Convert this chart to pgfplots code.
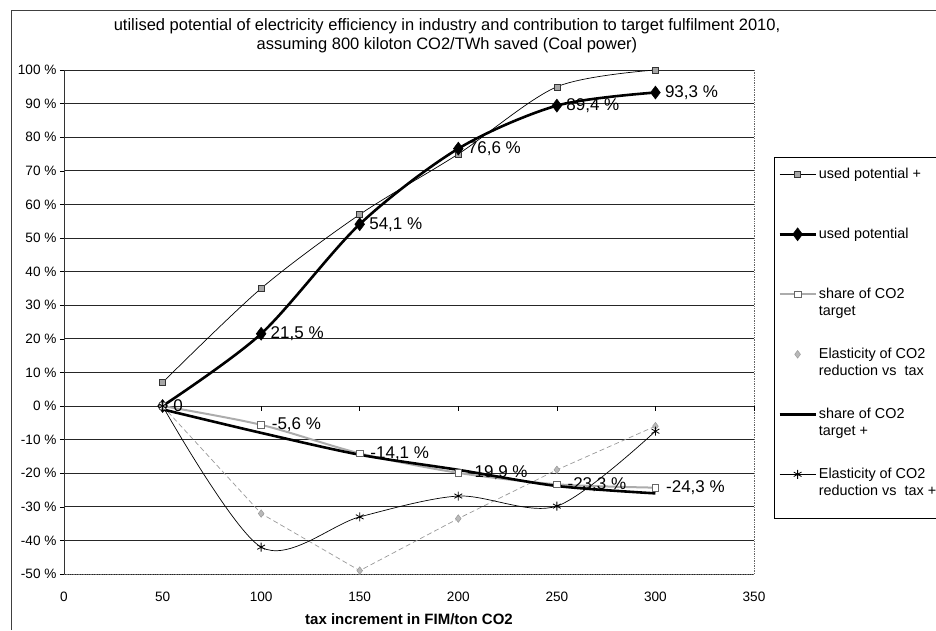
\documentclass[border=0pt]{standalone}
\usepackage{fontspec}
\setmainfont{Liberation Sans}
\usepackage{pgfplots}
\pgfplotsset{compat=1.18}
\pgfplotsset{
  legimg/.style={legend image code/.code={\draw[mark repeat=2,mark phase=2,##1] plot coordinates {(0pt,#1) (18pt,#1) (36pt,#1)};}}
}
\newcommand{\two}[2]{\vtop{\hbox{#1}\hbox{#2}}}
\begin{document}
\begin{tikzpicture}
\useasboundingbox (0pt,0pt) rectangle (936pt,630pt);
\draw[black!75, line width=0.9pt] (11pt,0pt) -- (11pt,620pt) -- (936pt,620pt);
\node[align=center, font=\fontsize{16.5}{19}\selectfont] at (447pt,594pt)
  {utilised potential of electricity efficiency in industry and contribution to target fulfilment 2010,\\
   assuming 800 kiloton CO2/TWh saved (Coal power)};
\begin{axis}[
  at={(64pt,56pt)}, anchor=south west,
  scale only axis, width=690pt, height=504pt,
  xmin=0, xmax=350, ymin=-50, ymax=100,
  xtick={0,50,...,350}, ytick={-50,-40,...,100},
  /pgf/number format/assume math mode=true,
  tick label style={font=\fontsize{13.6}{15}\selectfont},
  yticklabel={\pgfmathprintnumber[fixed,precision=0]{\tick}\ \%},
  xticklabel style={yshift=-10pt},
  xtick pos=bottom, ytick pos=left,
  xtick style={draw=none},
  ytick style={black, line width=0.6pt},
  tick align=outside, major tick length=4pt,
  ymajorgrids, major grid style={black!85, line width=0.7pt},
  axis line style={draw=none},
  clip=false,
  xlabel={tax increment in FIM/ton CO2},
  xlabel style={at={(axis description cs:0.5,-0.0893)}, anchor=center, font=\bfseries\fontsize{15}{17}\selectfont},
  legimg=23pt,
  legend cell align=left,
  legend style={at={(1.029,0.8274)}, anchor=north west, draw=black, line width=0.6pt, fill=white,
    inner xsep=4pt, inner ysep=10pt, row sep=0pt, column sep=0pt,
    font=\fontsize{14.4}{17}\selectfont,
    nodes={text height=11pt, text depth=49pt, inner xsep=2pt, inner ysep=0pt}},
]
% borders
\draw[black!80, line width=0.8pt] (rel axis cs:0,0) -- (rel axis cs:0,1);
\draw[black!60, line width=0.7pt, densely dotted] (rel axis cs:0,0) -- (rel axis cs:1,0) -- (rel axis cs:1,1);
\pgfplotsinvokeforeach{50,100,150,200,250,300,350}{\draw[black, line width=0.6pt] (axis cs:#1,0) -- ++(0pt,-5pt);}

% used potential +
\addplot[black, line width=0.7pt, smooth, mark=square*, mark size=3pt,
  mark options={fill=gray!70, draw=black!80, line width=0.5pt}]
  coordinates {(50,7) (100,35) (150,57) (200,75) (250,95) (300,100)};
\addlegendentry{used potential +}

% used potential
\addplot[black, line width=2.6pt, smooth, mark=diamond*, mark size=6.5pt,
  mark options={fill=black, line width=0.5pt},
  nodes near coords, point meta=explicit symbolic,
  nodes near coords style={anchor=west, xshift=6pt, font=\fontsize{17}{19}\selectfont}]
  coordinates {(50,0) [] (100,21.5) [21,5 \%] (150,54.1) [54,1 \%] (200,76.6) [76,6 \%] (250,89.4) [89,4 \%] (300,93.3) [93,3 \%]};
\addlegendentry{used potential}

% share of CO2 target
\addplot[gray!65, line width=2pt, smooth, mark=square*, mark size=3.3pt,
  mark options={fill=white, draw=gray!80!black, line width=0.8pt},
  nodes near coords, point meta=explicit symbolic,
  nodes near coords style={black, anchor=west, xshift=7pt, font=\fontsize{17}{19}\selectfont}]
  coordinates {(50,0) [0] (100,-5.6) [-5,6 \%] (150,-14.1) [-14,1 \%] (200,-19.9) [-19,9 \%] (250,-23.3) [-23,3 \%] (300,-24.3) [-24,3 \%]};
\addlegendentry{\two{share of CO2}{target}}

% elasticity (dashed connection)
\addplot[forget plot, gray!80, line width=0.7pt, dash pattern=on 5pt off 3pt]
  coordinates {(50,0) (100,-32) (150,-49) (200,-33.5) (250,-19) (300,-6)};
\addplot[only marks, mark=diamond*, mark size=3.8pt, mark options={fill=gray!55, draw=gray!80, line width=0.5pt}]
  coordinates {(50,0) (100,-32) (150,-49) (200,-33.5) (250,-19) (300,-6)};
\addlegendentry{\two{Elasticity of CO2}{reduction vs\ \ tax}}

% share of CO2 target +
\addplot[black, line width=2.6pt, smooth]
  coordinates {(50,-1) (100,-8) (150,-14.5) (200,-19) (250,-23.8) (300,-26)};
\addlegendentry{\two{share of CO2}{target +}}

% elasticity +
\addplot[black, line width=0.7pt, smooth, mark=asterisk, mark size=4.5pt, mark options={line width=0.8pt}, legimg=13.5pt]
  coordinates {(50,0) (100,-42) (150,-33) (200,-26.8) (250,-29.8) (300,-7.5)};
\addlegendentry[text depth=30pt]{\two{Elasticity of CO2}{reduction vs\ \ tax +}}
\end{axis}
\end{tikzpicture}
\end{document}
